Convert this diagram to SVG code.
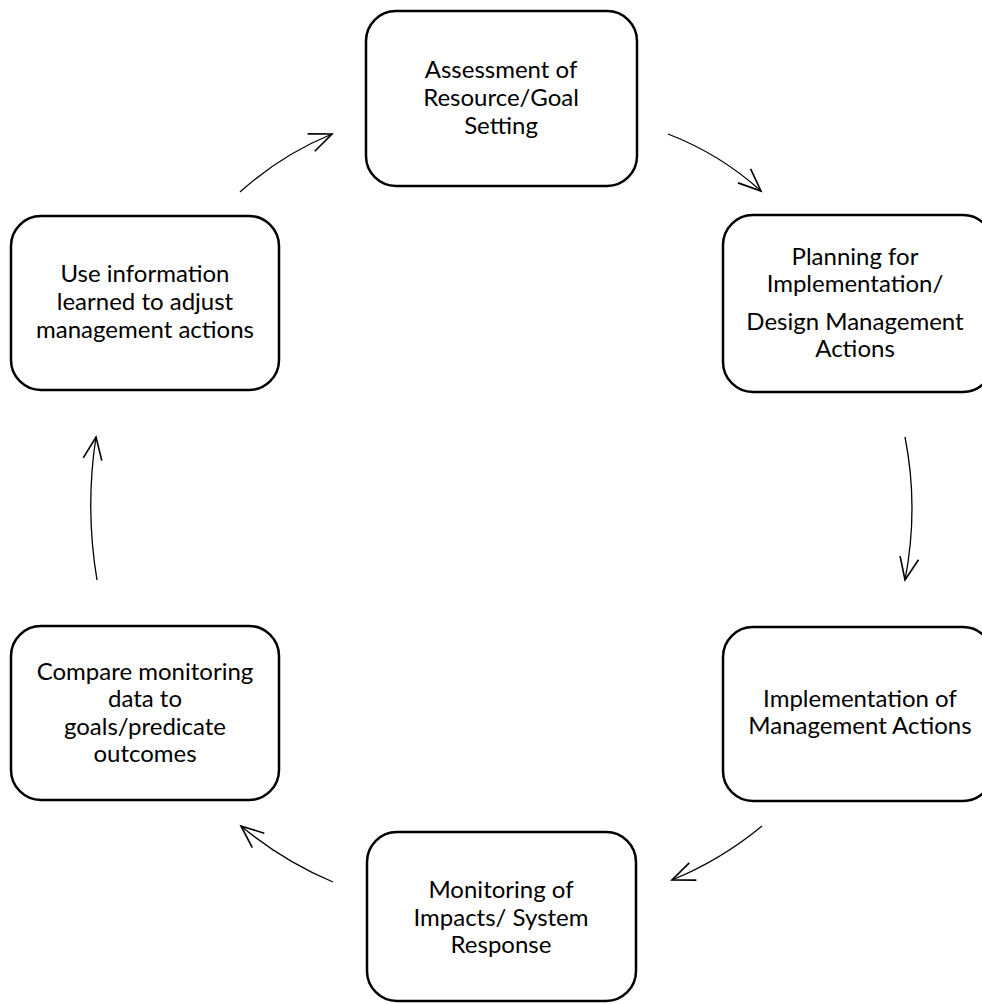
<svg xmlns="http://www.w3.org/2000/svg" width="982" height="1004" viewBox="0 0 982 1004">
<style>
.box{fill:#fff;stroke:#000;stroke-width:2.5}
.lbl{font-family:Lato,"Liberation Sans",sans-serif;font-size:24px;fill:#000;text-anchor:middle}
.conn{fill:none;stroke:#000;stroke-width:1.3}
</style>
<defs>
<marker id="ah" markerUnits="userSpaceOnUse" markerWidth="30" markerHeight="30" refX="0" refY="0" viewBox="-20 -12 24 24" orient="auto">
<path d="M-18,-7.5 L0,0 L-18,7.5" fill="none" stroke="#000" stroke-width="1.3"/>
</marker>
</defs>
<rect width="982" height="1004" fill="#fff"/>
<g id="connectors">
<path class="conn" d="M240,192 Q281,155 332,134" marker-end="url(#ah)"/>
<path class="conn" d="M668,134 Q720,154 761,191" marker-end="url(#ah)"/>
<path class="conn" d="M905,437 Q919,508 905,580" marker-end="url(#ah)"/>
<path class="conn" d="M762,826 Q721,860 672,880" marker-end="url(#ah)"/>
<path class="conn" d="M333,882 Q283,861 241,826" marker-end="url(#ah)"/>
<path class="conn" d="M97,580 Q85,508 96,437" marker-end="url(#ah)"/>
</g>
<g id="node-assessment">
<rect class="box" x="366" y="11" width="271" height="175" rx="30"/>
<text class="lbl" x="501" y="78">Assessment of</text>
<text class="lbl" x="501" y="106">Resource/Goal</text>
<text class="lbl" x="501" y="134">Setting</text>
</g>
<g id="node-planning">
<rect class="box" x="723" y="215" width="270" height="177" rx="30"/>
<text class="lbl" x="855" y="265">Planning for</text>
<text class="lbl" x="855" y="292">Implementation/</text>
<text class="lbl" x="855" y="330">Design Management</text>
<text class="lbl" x="855" y="357">Actions</text>
</g>
<g id="node-implementation">
<rect class="box" x="723" y="627" width="270" height="174" rx="30"/>
<text class="lbl" x="860" y="707">Implementation of</text>
<text class="lbl" x="860" y="734">Management Actions</text>
</g>
<g id="node-monitoring">
<rect class="box" x="367" y="832" width="269" height="169" rx="30"/>
<text class="lbl" x="501" y="898">Monitoring of</text>
<text class="lbl" x="501" y="926">Impacts/ System</text>
<text class="lbl" x="501" y="953">Response</text>
</g>
<g id="node-compare">
<rect class="box" x="11" y="626" width="268" height="174" rx="30"/>
<text class="lbl" x="145" y="680">Compare monitoring</text>
<text class="lbl" x="145" y="707">data to</text>
<text class="lbl" x="145" y="735">goals/predicate</text>
<text class="lbl" x="145" y="762">outcomes</text>
</g>
<g id="node-use">
<rect class="box" x="11" y="216" width="268" height="174" rx="30"/>
<text class="lbl" x="145" y="282">Use information</text>
<text class="lbl" x="145" y="310">learned to adjust</text>
<text class="lbl" x="145" y="338">management actions</text>
</g>
</svg>
